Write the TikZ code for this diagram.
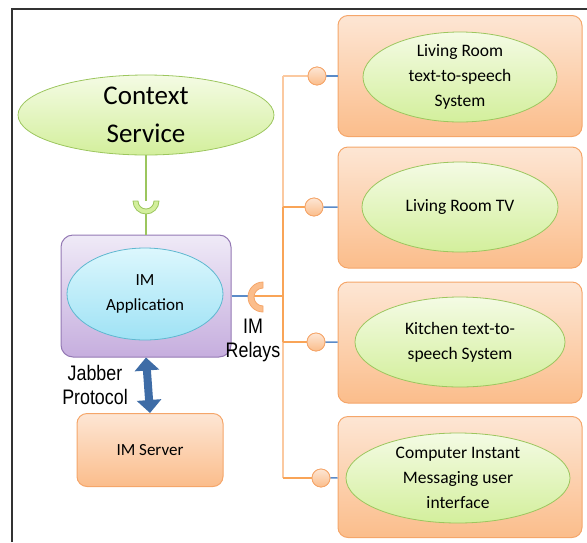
\documentclass[tikz,border=0pt]{standalone}
\usepackage{fontspec}
\setmainfont{Carlito}
\newfontfamily\arialfont[FakeStretch=0.85]{Liberation Sans}
\usetikzlibrary{arrows.meta,shapes.geometric}
\definecolor{o1}{HTML}{FDE6D4}
\definecolor{o2}{HTML}{FBBD8B}
\definecolor{o3}{HTML}{F5A66A}
\definecolor{o4}{HTML}{F9A457}
\definecolor{o5}{HTML}{FBC9A0}
\definecolor{g1}{HTML}{F4FBE4}
\definecolor{g2}{HTML}{D3EF9C}
\definecolor{g3}{HTML}{9CC65E}
\definecolor{v1}{HTML}{EFEAF7}
\definecolor{v2}{HTML}{C6AEDE}
\definecolor{v3}{HTML}{9479B4}
\definecolor{c1}{HTML}{DCF7FD}
\definecolor{c2}{HTML}{9FE2F5}
\definecolor{c3}{HTML}{5FB8D0}
\definecolor{b1}{HTML}{5B8BC8}
\definecolor{b2}{HTML}{3E6CA6}

\begin{document}
\begin{tikzpicture}[x=1pt,y=-1pt,
  box/.style={rectangle,rounded corners=10pt,draw=o3,line width=1pt,top color=o1,bottom color=o2},
  room/.style={box,minimum width=244pt,minimum height=121pt},
  dev/.style={ellipse,draw=g3,line width=0.8pt,top color=g1,bottom color=g2,align=center,
    inner sep=-3pt,font=\fontsize{17.5}{25}\selectfont},
  ball/.style={circle,draw=o3,line width=0.8pt,top color=o1,bottom color=o2,minimum size=18pt,inner sep=0pt},
  lbl/.style={align=center,inner sep=0pt,font=\arialfont\fontsize{21}{24}\selectfont},
  thinbus/.style={draw=o5,line width=1.6pt},
  bus/.style={draw=o4,line width=2.6pt},
  stub/.style={draw=b1,line width=1.5pt},
  gline/.style={draw=g3,line width=1.5pt},
  proto/.style={draw=b2,line width=8pt,{Triangle[width=24pt,length=13pt]}-{Triangle[width=24pt,length=13pt]}}]
\useasboundingbox (0,0) rectangle (587,542);
\draw[line width=2pt,draw=black!80] (12,542) -- (12,9) -- (587,9);

\node[dev,draw=g3,minimum width=256pt,minimum height=80pt,inner sep=-6pt,
  font=\fontsize{27}{38}\selectfont] (ctx) at (146,115) {Context\\Service};
\node[rectangle,rounded corners=12pt,draw=v3,line width=1pt,top color=v1,bottom color=v2,
  minimum width=170pt,minimum height=122pt] (app) at (146,296) {};
\node[ellipse,draw=c3,line width=0.8pt,top color=c1,bottom color=c2,align=center,
  minimum width=156pt,minimum height=92pt,font=\fontsize{17}{25}\selectfont] (appell) at (145,294) {IM\\Application};
\node[box,minimum width=146pt,minimum height=73pt,font=\fontsize{17}{20}\selectfont] (server) at (150,450) {IM Server};

\node[lbl] (jabber) at (95,385) {Jabber\\Protocol};
\node[lbl] (relays) at (253,340) {IM\\Relays};

\node[room] (room1) at (460,76) {};
\node[room] (room2) at (460,207.5) {};
\node[room] (room3) at (460,342.5) {};
\node[room] (room4) at (460,477) {};
\node[dev,minimum width=194pt,minimum height=90pt] (dev1) at (460,77) {Living Room\\text-to-speech\\System};
\node[dev,minimum width=196pt,minimum height=90pt] (dev2) at (460,207) {Living Room TV};
\node[dev,minimum width=210pt,minimum height=90pt] (dev3) at (460,342) {Kitchen text-to-\\speech System};
\node[dev,minimum width=224pt,minimum height=90pt] (dev4) at (458,478) {Computer Instant\\Messaging user\\interface};

% context service to application
\coordinate (cupc) at (146,201);
\coordinate (cupb) at (146,214);
\draw[gline] (ctx.south) -- (ctx.south |- cupc);
\draw[gline] (cupb) -- (app.north);
\fill[g2,draw=g3,line width=0.8pt] (133,201) arc[start angle=180,end angle=360,radius=13pt]
  -- ++(-5,0) arc[start angle=360,end angle=180,radius=8pt] -- cycle;

% relays
\coordinate (sockin) at (252,296);
\coordinate (hub) at (283,296);
\node[ball] (ball1) at (317,76) {};
\node[ball] (ball2) at (314,207) {};
\node[ball] (ball3) at (316,342) {};
\node[ball] (ball4) at (321,478) {};
\draw[thinbus] (hub |- ball1) -- (hub |- ball2);
\draw[thinbus] (hub |- ball3) -- (hub |- ball4);
\draw[bus] (hub |- ball2) -- (hub |- ball3);
\draw[thinbus] (hub |- ball1) -- (ball1);
\draw[bus] (hub |- ball2) -- (ball2);
\draw[bus] (hub |- ball3) -- (ball3);
\draw[bus] (hub |- ball4) -- (ball4);
\draw[bus] (sockin) -- (hub);
\draw[stub] (app.east |- sockin) -- (sockin);
\fill[o2,draw=o3,line width=0.8pt] (263,282) arc[start angle=90,end angle=270,radius=15pt]
  -- ++(0,-6) arc[start angle=270,end angle=90,radius=9pt] -- cycle;
\foreach \k in {1,...,4}
  \draw[stub] (ball\k) -- (room\k);
\foreach \k in {1,...,4}
  \node[ball] at (ball\k) {};

\draw[proto] (app.south) -- (server.north);
\end{tikzpicture}
\end{document}
